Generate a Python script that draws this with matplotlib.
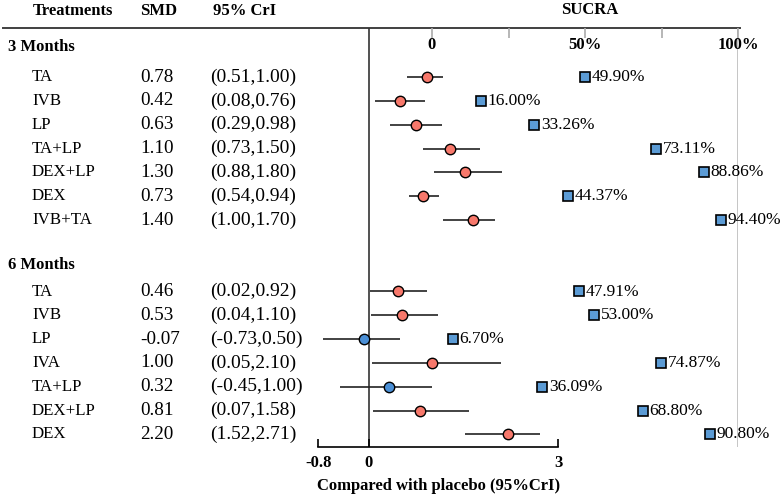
import matplotlib
matplotlib.use("Agg")
import matplotlib.pyplot as plt

plt.rcParams['font.family'] = ['Liberation Serif', 'DejaVu Serif']

# ---------------- data ----------------
m3_treatments = ["TA", "IVB", "LP", "TA+LP", "DEX+LP", "DEX", "IVB+TA"]
m3_smd = [0.78, 0.42, 0.63, 1.10, 1.30, 0.73, 1.40]
m3_low = [0.51, 0.08, 0.29, 0.73, 0.88, 0.54, 1.00]
m3_high = [1.00, 0.76, 0.98, 1.50, 1.80, 0.94, 1.70]
m3_sucra = [49.90, 16.00, 33.26, 73.11, 88.86, 44.37, 94.40]

m6_treatments = ["TA", "IVB", "LP", "IVA", "TA+LP", "DEX+LP", "DEX"]
m6_smd = [0.46, 0.53, -0.07, 1.00, 0.32, 0.81, 2.20]
m6_low = [0.02, 0.04, -0.73, 0.05, -0.45, 0.07, 1.52]
m6_high = [0.92, 1.10, 0.50, 2.10, 1.00, 1.58, 2.71]
m6_sucra = [47.91, 53.00, 6.70, 74.87, 36.09, 68.80, 90.80]

forest_ticks = [-0.8, 0, 3]
forest_ticklabels = ["-0.8", "0", "3"]
sucra_ticks = [0, 25, 50, 75, 100]
sucra_ticklabels = {0: "0", 50: "50%", 100: "100%"}

# ---------------- layout helpers ----------------
W, H = 781, 498
fig = plt.figure(figsize=(W / 100, H / 100), dpi=100)

def rect(left, top, width, height):
    return [left / W, 1 - (top + height) / H, width / W, height / H]

Y0, DY = 53.2, 23.83            # row r -> pixel y = Y0 + DY*r
def row_px(r):
    return Y0 + DY * r
TOP_PX, BOT_PX = 28, 447
ylim = ((BOT_PX - Y0) / DY, (TOP_PX - Y0) / DY)

m3_rows = list(range(1, 8))
m6_rows = list(range(10, 17))

RED = "#F7786B"
BLUE = "#4A8FD6"
SQ = "#5B9BD5"

# background axes for text / rules (pixel coordinates)
bg = fig.add_axes([0, 0, 1, 1])
bg.set_xlim(0, W)
bg.set_ylim(H, 0)
bg.axis("off")

bold = dict(fontweight="bold")
bg.text(33, 11, "Treatments", fontsize=12, va="center", ha="left", **bold)
bg.text(140, 11, "SMD", fontsize=12, va="center", ha="left", **bold)
bg.text(213, 11, "95% CrI", fontsize=12, va="center", ha="left", **bold)
bg.text(590, 10, "SUCRA", fontsize=12, va="center", ha="center", **bold)
bg.plot([3, 740], [28, 28], color="#404040", lw=1.4)

bg.text(8, 47, "3 Months", fontsize=12, va="center", ha="left", **bold)
bg.text(8, 265, "6 Months", fontsize=12, va="center", ha="left", **bold)

for rows, names, smd, lo, hi in [(m3_rows, m3_treatments, m3_smd, m3_low, m3_high),
                                 (m6_rows, m6_treatments, m6_smd, m6_low, m6_high)]:
    for r, n, s, l, h in zip(rows, names, smd, lo, hi):
        y = row_px(r)
        bg.text(32, y, n, fontsize=12.2, va="center", ha="left")
        bg.text(140, y, f"{s:.2f}", fontsize=13.8, va="center", ha="left")
        bg.text(210, y, f"({l:.2f},{h:.2f})", fontsize=14, va="center", ha="left")

# ---------------- forest axes (6 months scale, with bottom axis) ----------------
ax6 = fig.add_axes(rect(318.3, TOP_PX, 240, BOT_PX - TOP_PX))
ax6.set_facecolor("none")
ax6.set_xlim(-0.8, 3)
ax6.set_ylim(*ylim)
for sp in ["top", "left", "right"]:
    ax6.spines[sp].set_visible(False)
ax6.spines["bottom"].set_linewidth(1.2)
ax6.set_yticks([])
ax6.set_xticks(forest_ticks)
ax6.set_xticklabels(forest_ticklabels, fontsize=12, fontweight="bold")
ax6.tick_params(axis="x", direction="in", length=6, width=1.2, pad=5.5)
ax6.set_xlabel("Compared with placebo (95%CrI)", fontsize=12, fontweight="bold", labelpad=5)
ax6.axvline(0, color="#333333", lw=1.2, zorder=1)

for r, s, l, h in zip(m6_rows, m6_smd, m6_low, m6_high):
    ax6.hlines(r, l, h, color="#222222", lw=1.2, zorder=2)
    c = BLUE if l < 0 else RED
    ax6.plot(s, r, "o", ms=7.5, mfc=c, mec="black", mew=1.0, zorder=3, clip_on=False)

# ---------------- forest axes (3 months as drawn in the figure) ----------------
ax3 = fig.add_axes(rect(369.0 - 0.8 * 74, TOP_PX, 3.8 * 74, BOT_PX - TOP_PX))
ax3.set_facecolor("none")
ax3.set_xlim(-0.8, 3)
ax3.set_ylim(*ylim)
ax3.axis("off")
for r, s, l, h in zip(m3_rows, m3_smd, m3_low, m3_high):
    ax3.hlines(r, l, h, color="#222222", lw=1.2, zorder=2)
    c = BLUE if l < 0 else RED
    ax3.plot(s, r, "o", ms=7.5, mfc=c, mec="black", mew=1.0, zorder=3, clip_on=False)

# ---------------- SUCRA axes ----------------
axs = fig.add_axes(rect(432, TOP_PX, 306, BOT_PX - TOP_PX))
axs.set_facecolor("none")
axs.set_xlim(0, 100)
axs.set_ylim(*ylim)
for sp in axs.spines.values():
    sp.set_visible(False)
axs.set_yticks([])
axs.xaxis.tick_top()
axs.set_xticks(sucra_ticks)
axs.set_xticklabels([])
axs.tick_params(axis="x", direction="in", length=7, width=1.2, color="#AAAAAA")
axs.axvline(100, color="#BBBBBB", lw=1.2, zorder=1)
lab_r = (45 - Y0) / DY
for v, t in sucra_ticklabels.items():
    axs.text(v, lab_r, t, ha="center", va="center", fontsize=12, fontweight="bold")

for rows, vals in [(m3_rows, m3_sucra), (m6_rows, m6_sucra)]:
    for r, v in zip(rows, vals):
        axs.plot(v, r, "s", ms=7, mfc=SQ, mec="black", mew=1.2, zorder=3, clip_on=False)
        axs.annotate(f"{v:.2f}%", (v, r), xytext=(5, 0), textcoords="offset points",
                     va="center", ha="left", fontsize=12.5, zorder=4)

fig.savefig("out.png", dpi=100)
